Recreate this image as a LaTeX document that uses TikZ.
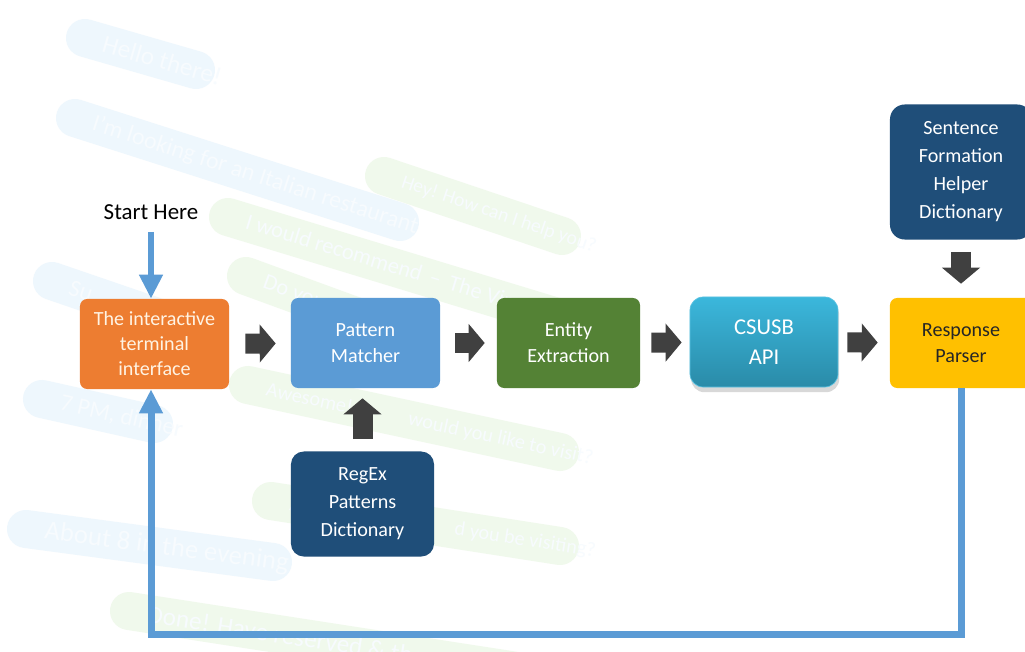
\documentclass[tikz,border=0pt]{standalone}
\usepackage{fontspec}
\setmainfont{Carlito}
\usetikzlibrary{arrows.meta,shadows}

\definecolor{termorange}{HTML}{ED7D31}
\definecolor{termtext}{HTML}{FFF3E3}
\definecolor{matchblue}{HTML}{5B9BD5}
\definecolor{entgreen}{HTML}{548235}
\definecolor{apitop}{HTML}{3BB7DC}
\definecolor{apibottom}{HTML}{2A8BA8}
\definecolor{apiedge}{HTML}{5CC3E2}
\definecolor{respyellow}{HTML}{FFC000}
\definecolor{resptext}{HTML}{262626}
\definecolor{dictblue}{HTML}{1F4E79}
\definecolor{blockgray}{HTML}{404040}
\definecolor{flowblue}{HTML}{5B9BD5}
\definecolor{chatblue}{HTML}{EEF7FD}
\definecolor{chatgreen}{HTML}{F0F9EC}

\begin{document}
\begin{tikzpicture}[x=0.025cm, y=-0.025cm,
  box/.style={rounded corners=0.18cm, inner sep=0pt, align=center,
    minimum height=2.25cm, font=\fontsize{14.3}{18.5}\selectfont},
  dict/.style={box, fill=dictblue, text=white, rounded corners=0.32cm,
    font=\fontsize{14.3}{19.9}\selectfont},
  blockarrow/.style={draw=blockgray, line width=0.5cm,
    -{Triangle[length=0.4cm, width=0.93cm]}},
  flowline/.style={draw=flowblue, line width=0.16cm,
    -{Triangle[length=0.6cm, width=0.56cm]}},
  chatB/.style={draw=chatblue, line width=0.95cm, line cap=round},
  chatG/.style={draw=chatgreen, line width=0.95cm, line cap=round},
  chattext/.style={text=white!55!chatblue, inner sep=0pt, pos=0, sloped, anchor=west},
]
\clip (0,0) rectangle (1025,651);
\fill[white] (0,0) rectangle (1025,651);

% faint chat bubbles in the background
\coordinate (c1a) at (85,38);   \coordinate (c1b) at (196,70);
\coordinate (c2a) at (75,118);  \coordinate (c2b) at (400,222);
\coordinate (c3a) at (384,176); \coordinate (c3b) at (562,236);
\coordinate (c4a) at (228,217); \coordinate (c4b) at (600,330);
\coordinate (c5a) at (246,276); \coordinate (c5b) at (380,325);
\coordinate (c6a) at (52,281);  \coordinate (c6b) at (160,318);
\coordinate (c7a) at (42,399);  \coordinate (c7b) at (154,424);
\coordinate (c8a) at (248,385); \coordinate (c8b) at (560,452);
\coordinate (c9a) at (271,501); \coordinate (c9b) at (560,546);
\coordinate (c10a) at (26,529); \coordinate (c10b) at (273,562);
\coordinate (c11a) at (129,611); \coordinate (c11b) at (640,690);

\draw[chatB] (c1a) -- (c1b) node[chattext, font=\fontsize{18}{18}\selectfont] (t1) {Hello there!};
\draw[chatB] (c2a) -- (c2b) node[chattext, font=\fontsize{17}{17}\selectfont] (t2) {I'm looking for an Italian restaurant};
\draw[chatG] (c3a) -- (c3b) node[chattext, font=\fontsize{14}{14}\selectfont] (t3) {Hey! How can I help you?};
\draw[chatG] (c4a) -- (c4b) node[chattext, font=\fontsize{16}{16}\selectfont] (t4) {I would recommend \,–\, The Virg};
\draw[chatG] (c5a) -- (c5b) node[chattext, font=\fontsize{16}{16}\selectfont] (t5) {Do you};
\draw[chatB] (c6a) -- (c6b) node[chattext, font=\fontsize{17}{17}\selectfont] (t6) {Su};
\draw[chatB] (c7a) -- (c7b) node[chattext, font=\fontsize{17}{17}\selectfont] (t7) {7 PM, dinner};
\draw[chatG] (c8a) -- (c8b)
  node[chattext, font=\fontsize{14.5}{14.5}\selectfont] (t8a) {Awesome!}
  node[chattext, pos=0.455, font=\fontsize{14.5}{14.5}\selectfont] (t8b) {would you like to visit?};
\draw[chatG] (c9a) -- (c9b)
  node[chattext, font=\fontsize{14.4}{14.4}\selectfont] (t9a) {An}
  node[chattext, pos=0.571, font=\fontsize{14.4}{14.4}\selectfont] (t9b) {d you be visiting?};
\draw[chatB] (c10a) -- (c10b) node[chattext, font=\fontsize{19}{19}\selectfont] (t10) {About 8 in the evening};
\draw[chatG] (c11a) -- (c11b) node[chattext, font=\fontsize{18}{18}\selectfont] (t11) {Done! Have reserved \& the};

% pipeline boxes
\node[box, fill=termorange, text=termtext, minimum width=3.725cm,
  font=\fontsize{14.3}{17.8}\selectfont] (term) at (154.5,344)
  {The interactive\\terminal\\interface};
\node[box, fill=matchblue, text=white, minimum width=3.725cm] (pm) at (365.5,343) {Pattern\\Matcher};
\node[box, fill=entgreen, text=white, minimum width=3.575cm] (ent) at (568.5,343) {Entity\\Extraction};
\node[box, rounded corners=0.33cm, top color=apitop, bottom color=apibottom,
  draw=apiedge, line width=0.5pt,
  drop shadow={shadow xshift=0.03cm, shadow yshift=-0.13cm, opacity=0.3},
  minimum width=3.7cm, text=white, font=\fontsize{16.1}{21.3}\selectfont]
  (api) at (764,342) {CSUSB\\API};
\node[box, fill=respyellow, text=resptext, minimum width=3.55cm] (resp) at (961,343) {Response\\Parser};
\node[dict, minimum width=3.55cm, minimum height=3.375cm, rounded corners=0.37cm]
  (sent) at (961,172) {Sentence\\Formation\\Helper\\Dictionary};
\node[dict, minimum width=3.575cm, minimum height=2.625cm] (regex) at (362.5,504)
  {RegEx\\Patterns\\Dictionary};

\node[font=\fontsize{16.3}{19}\selectfont, inner sep=0pt] (start) at (151,212) {Start Here};

% block arrows between the stages
\draw[blockarrow, shorten <=0.4cm, shorten >=0.375cm] (term) -- (pm);
\draw[blockarrow, shorten <=0.375cm, shorten >=0.3cm] (pm) -- (ent);
\draw[blockarrow, shorten <=0.275cm, shorten >=0.2cm] (ent) -- (api);
\draw[blockarrow, shorten <=0.225cm, shorten >=0.3cm] (api) -- (resp);
\draw[blockarrow, shorten <=0.3cm, shorten >=0.25cm] (regex) -- (regex |- pm.south);
\draw[blockarrow, shorten <=0.3cm, shorten >=0.35cm] (sent) -- (resp);

% entry arrow and the feedback loop
\coordinate (loopbot) at (0,634);
\draw[flowline, line width=0.15cm, shorten <=0.3cm] (start) -- (start |- term.north);
\draw[flowline, line width=0.175cm] (resp.south) -- (resp.south |- loopbot) -| (start |- term.south);
\end{tikzpicture}
\end{document}
